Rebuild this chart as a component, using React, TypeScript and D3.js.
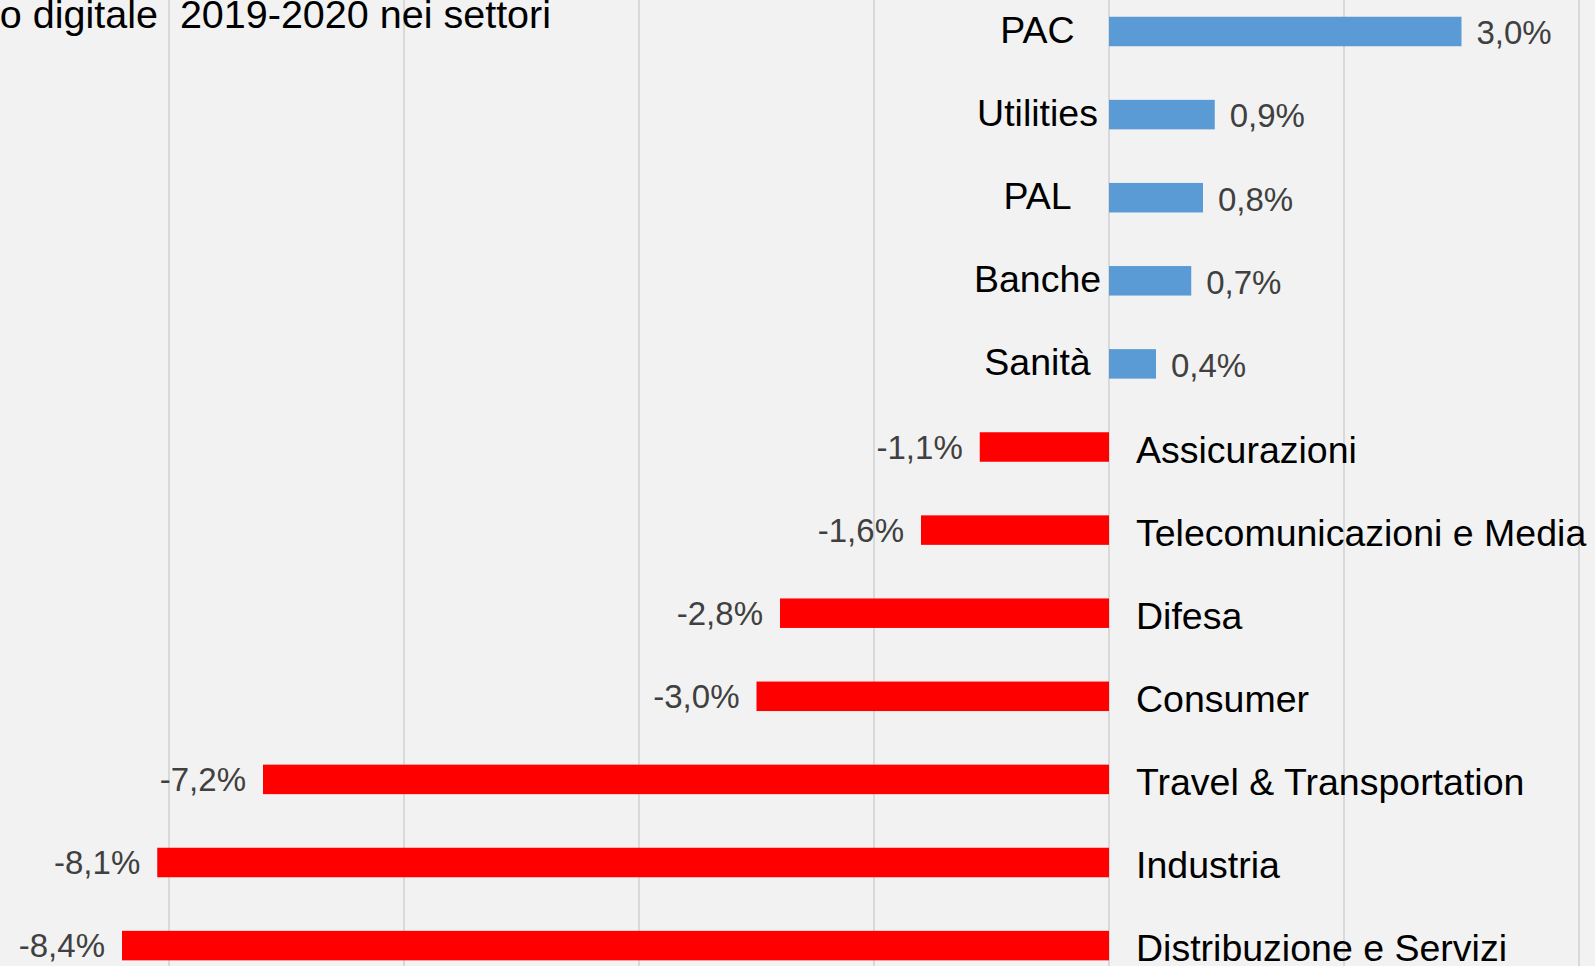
import { useEffect, useRef } from 'react';
import * as d3 from 'd3';

// Sector names, top to bottom
const categories = [
  'PAC',
  'Utilities',
  'PAL',
  'Banche',
  'Sanità',
  'Assicurazioni',
  'Telecomunicazioni e Media',
  'Difesa',
  'Consumer',
  'Travel & Transportation',
  'Industria',
  'Distribuzione e Servizi',
];

// Change 2019-2020 (%)
const values = [3.0, 0.9, 0.8, 0.7, 0.4, -1.1, -1.6, -2.8, -3.0, -7.2, -8.1, -8.4];

// Value labels as printed
const valueLabels = ['3,0%', '0,9%', '0,8%', '0,7%', '0,4%', '-1,1%', '-1,6%', '-2,8%', '-3,0%', '-7,2%', '-8,1%', '-8,4%'];

const gridTicks = [-10, -8, -6, -4, -2, 0, 2, 4];

const titleText = 'o digitale  2019-2020 nei settori';

export default function App() {
  const svgRef = useRef<SVGSVGElement | null>(null);

  useEffect(() => {
    if (!svgRef.current) return;
    const svg = d3.select(svgRef.current);
    svg.selectAll('*').remove();

    const width = 1595;
    const height = 966;
    const font = '"Liberation Sans", Arial, Helvetica, sans-serif';

    svg.attr('width', width).attr('height', height);

    svg.append('rect')
      .attr('width', width)
      .attr('height', height)
      .attr('fill', '#f2f2f2');

    // x: 117.5px per percent point, zero at 1109
    const x = d3.scaleLinear()
      .domain([-10, 4])
      .range([1109 - 1175, 1109 + 470]);

    const step = 83.1;
    const y = d3.scaleBand<string>()
      .domain(categories)
      .range([31.5 - step / 2, 31.5 - step / 2 + step * categories.length])
      .paddingInner(0.645)
      .paddingOuter(0.3225);

    // grid lines
    svg.append('g')
      .selectAll('line')
      .data(gridTicks)
      .enter()
      .append('line')
      .attr('x1', d => x(d))
      .attr('x2', d => x(d))
      .attr('y1', 0)
      .attr('y2', height)
      .attr('stroke', '#d9d9d9')
      .attr('stroke-width', 2);

    // title (cut at the left edge, as in the source)
    svg.append('text')
      .attr('x', 551)
      .attr('y', 28)
      .attr('text-anchor', 'end')
      .style('font-family', font)
      .style('font-size', '39.5px')
      .style('fill', '#000')
      .style('white-space', 'pre')
      .text(titleText);

    const rows = categories.map((c, i) => ({ name: c, value: values[i], label: valueLabels[i] }));

    // bars
    svg.append('g')
      .selectAll('rect')
      .data(rows)
      .enter()
      .append('rect')
      .attr('x', d => x(Math.min(0, d.value)))
      .attr('width', d => Math.abs(x(d.value) - x(0)))
      .attr('y', d => y(d.name)!)
      .attr('height', y.bandwidth())
      .attr('fill', d => (d.value >= 0 ? '#5b9bd5' : '#ff0000'));

    // value labels
    svg.append('g')
      .selectAll('text')
      .data(rows)
      .enter()
      .append('text')
      .attr('x', d => (d.value >= 0 ? x(d.value) + 15 : x(d.value) - 17))
      .attr('y', d => y(d.name)! + y.bandwidth() / 2 + (d.value >= 0 ? 1 : 0))
      .attr('dy', '0.36em')
      .attr('text-anchor', d => (d.value >= 0 ? 'start' : 'end'))
      .style('font-family', font)
      .style('font-size', '33px')
      .style('fill', '#404040')
      .text(d => d.label);

    // category labels: centred left of zero for gains, left-aligned right of zero for losses
    svg.append('g')
      .selectAll('text')
      .data(rows)
      .enter()
      .append('text')
      .attr('x', d => (d.value >= 0 ? 1037.5 : 1136))
      .attr('y', d => y(d.name)! + y.bandwidth() / 2 + (d.value >= 0 ? -2 : 2))
      .attr('dy', '0.36em')
      .attr('text-anchor', d => (d.value >= 0 ? 'middle' : 'start'))
      .style('font-family', font)
      .style('font-size', '37.5px')
      .style('fill', '#000')
      .text(d => d.name);
  }, []);

  return (
    <svg
      ref={svgRef}
      style={{ position: 'absolute', left: 0, top: 0, display: 'block' }}
    />
  );
}
